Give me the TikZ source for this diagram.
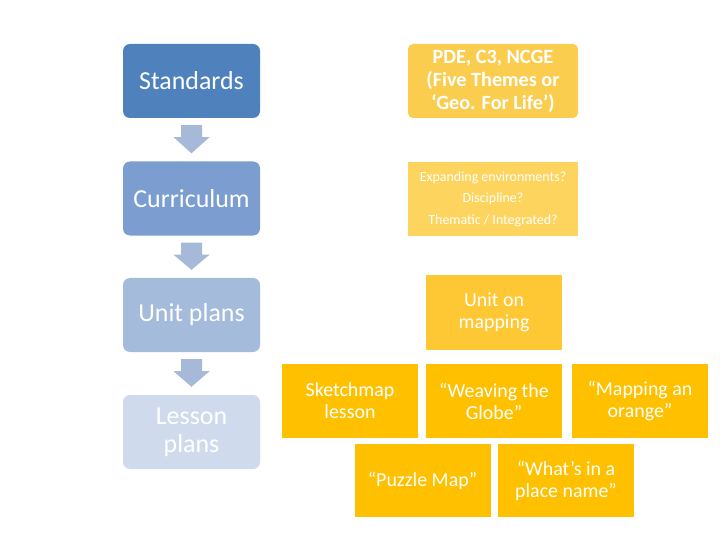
\documentclass[tikz,border=0pt]{standalone}
\usepackage{fontspec}
\setmainfont{Carlito}
\usepackage{tikz}
\usetikzlibrary{calc}
\definecolor{stdblue}{HTML}{4F81BD}
\definecolor{curblue}{HTML}{7B9DD0}
\definecolor{unitblue}{HTML}{A4BBDB}
\definecolor{lesblue}{HTML}{CFDBED}
\definecolor{arrowblue}{HTML}{A7B9D9}
\definecolor{pdegold}{HTML}{FBCD4F}
\definecolor{expgold}{HTML}{FDD45D}
\definecolor{mapgold}{HTML}{FEC734}
\definecolor{lessongold}{HTML}{FFC000}

\begin{document}
\begin{tikzpicture}[x=1bp,y=-1bp,line cap=round,
  level/.style={rounded corners=7bp,text=white,minimum width=137bp,minimum height=74bp,
    inner sep=0pt,align=center,font=\fontsize{26}{28}\selectfont},
  topic/.style={text=white,minimum width=136bp,minimum height=74bp,inner sep=0pt,
    align=center,font=\fontsize{20}{22}\selectfont}]
\useasboundingbox (0,0) rectangle (720,540);
% left column
\node[level,fill=stdblue] (std) at (191.5,81) {Standards};
\node[level,fill=curblue] (cur) at (191.5,198.5) {Curriculum};
\node[level,fill=unitblue] (unit) at (191.5,315) {Unit plans};
\node[level,fill=lesblue] (les) at (191.5,432) {Lesson\\plans};
\foreach \a/\b in {std/cur,cur/unit,unit/les}
  \fill[arrowblue] ($(\a.south)+(-10.5,7)$) -- ++(21,0) -- ++(0,12) -- ++(7.5,0)
    -- ($(\b.north)+(0,-8)$) -- ($(\a.south)+(-18,19)$) -- ++(7.5,0) -- cycle;
% right column
\node[topic,fill=pdegold,rounded corners=5bp,minimum width=170bp,
  font=\fontsize{20.3}{23}\selectfont\bfseries] (pde) at (493,81)
  {PDE, C3, NCGE\\(Five Themes or\\‘Geo. For Life’)};
\node[topic,fill=expgold,minimum width=170bp,font=\fontsize{14}{21.5}\selectfont] (exp) at (493,199)
  {Expanding environments?\\Discipline?\\Thematic / Integrated?};
\node[topic,fill=mapgold] (map) at (494,312.5) {Unit on\\mapping};
\node[topic,fill=lessongold] (sketch) at (350,401) {Sketchmap\\lesson};
\node[topic,fill=lessongold] (weave) at (494,401) {“Weaving the\\Globe”};
\node[topic,fill=lessongold] (orange) at (640,401) {“Mapping an\\orange”};
\node[topic,fill=lessongold,minimum height=73bp] (puzzle) at (422.5,480.5) {“Puzzle Map”};
\node[topic,fill=lessongold,minimum height=73bp] (place) at (566,480.5) {“What’s in a\\place name”};
\end{tikzpicture}
\end{document}
